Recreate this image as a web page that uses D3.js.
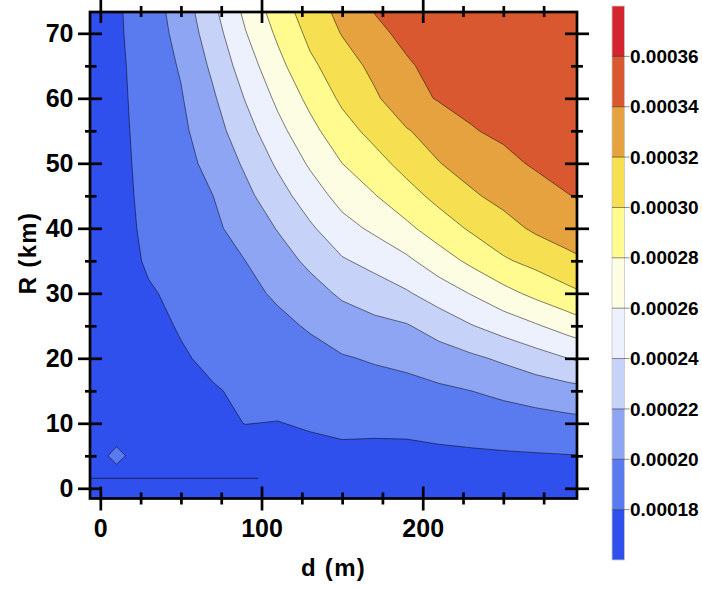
<!DOCTYPE html>
<html lang="en">
<head>
<meta charset="UTF-8">
<title>d - R contour</title>
<script src="https://cdn.jsdelivr.net/npm/d3@7"></script>
<style>
  body { margin: 0; background: #fff; }
  text { font-family: "Liberation Sans", Arial, sans-serif; font-weight: bold; }
</style>
</head>
<body>
<script>
// grid positions: d (m) across, R (km) up
var dGrid = [-10, 10, 30, 50, 70, 90, 110, 130, 150, 170, 190, 210, 230, 250, 270, 290, 310];
var rGrid = [-5, 0, 5, 10, 15, 20, 25, 30, 35, 40, 45, 50, 55, 60, 65, 70, 75];

// values, unit 1e-5, one row per R (from R = -5 upward)
var vRows = [
  [17.0, 17.0, 17.0, 17.0, 17.0, 17.0, 17.0, 17.0, 17.0, 17.0, 17.0, 17.0, 17.0, 17.0, 17.0, 17.0, 17.0],
  [17.0, 17.0, 17.05, 17.05, 17.1, 17.1, 17.1, 17.1, 17.1, 17.1, 17.1, 17.1, 17.1, 17.1, 17.1, 17.1, 17.1],
  [17.0, 18.35, 17.13, 17.22, 17.30, 17.39, 17.48, 17.57, 17.65, 17.64, 17.61, 17.68, 17.74, 17.81, 17.87, 17.94, 17.98],
  [17.0, 17.09, 17.26, 17.43, 17.75, 18.02, 17.96, 18.15, 18.35, 18.31, 18.37, 18.58, 18.79, 19.0, 19.21, 19.42, 19.63],
  [17.0, 17.13, 17.39, 17.65, 17.91, 18.2, 18.5, 18.8, 19.1, 19.23, 19.37, 19.68, 20.0, 20.43, 20.86, 21.29, 21.71],
  [17.0, 17.17, 17.52, 17.87, 18.25, 18.65, 19.05, 19.45, 19.85, 20.18, 20.5, 21.07, 21.64, 22.32, 23.15, 24.0, 24.76],
  [17.0, 17.22, 17.65, 18.1, 18.6, 19.1, 19.6, 20.17, 21.0, 21.49, 21.86, 22.84, 23.9, 24.86, 25.8, 26.84, 27.9],
  [17.0, 17.26, 17.85, 18.35, 18.95, 19.55, 20.25, 21.25, 22.3, 23.03, 23.79, 24.95, 26.1, 27.37, 28.5, 29.5, 30.39],
  [17.0, 17.3, 18.2, 18.6, 19.3, 20.0, 21.17, 22.4, 23.8, 24.6, 25.62, 27.05, 28.42, 29.75, 30.58, 31.48, 32.24],
  [17.0, 17.4, 18.35, 18.85, 19.65, 20.75, 22.1, 23.7, 25.3, 26.37, 27.58, 29.0, 30.26, 31.29, 32.32, 32.98, 33.63],
  [17.0, 17.4, 18.5, 19.1, 20.0, 21.5, 23.2, 25.0, 26.7, 27.9, 29.25, 30.58, 31.74, 32.57, 33.31, 33.95, 34.38],
  [17.0, 17.45, 18.6, 19.35, 20.58, 22.3, 24.3, 26.26, 28.0, 29.3, 30.68, 31.94, 32.78, 33.59, 34.2, 34.6, 35.0],
  [17.0, 17.5, 18.7, 19.6, 21.17, 23.2, 25.4, 27.4, 29.25, 30.6, 31.87, 32.8, 33.9, 34.3, 34.74, 35.09, 35.3],
  [17.0, 17.55, 18.8, 19.85, 21.75, 24.1, 26.4, 28.5, 30.35, 31.7, 33.3, 34.15, 34.4, 34.8, 35.14, 35.35, 35.6],
  [17.0, 17.6, 18.9, 20.17, 22.4, 25.0, 27.4, 29.6, 31.06, 32.5, 33.85, 34.4, 34.78, 35.15, 35.4, 35.65, 35.75],
  [17.0, 17.7, 19.0, 20.58, 23.1, 25.9, 28.33, 30.47, 32.1, 33.7, 34.3, 34.68, 35.13, 35.4, 35.64, 35.75, 35.86],
  [17.0, 17.75, 19.1, 21.0, 23.8, 26.7, 29.25, 31.2, 32.8, 34.2, 34.6, 35.05, 35.45, 35.62, 35.77, 35.88, 35.95]
];

// contour levels (unit 1e-5) and the band colours
var levels = [16, 18, 20, 22, 24, 26, 28, 30, 32, 34, 36];
var bandColors = ["#2f50ec", "#5a7bef", "#8ea5f3", "#c6d2f8", "#edf1fd", "#fdfde3",
                  "#fffb8f", "#f6e052", "#e5a23f", "#da5830", "#d3252f"];
var cbRange = [16, 38];
var cbTicks = [18, 20, 22, 24, 26, 28, 30, 32, 34, 36];
var cbLabels = ["0.00018", "0.00020", "0.00022", "0.00024", "0.00026",
                "0.00028", "0.00030", "0.00032", "0.00034", "0.00036"];

// axes
var dDomain = [-6.4, 295.7];
var rDomain = [-1.57, 73.28];
var xMajor = [0, 100, 200];
var xMinor = [25, 50, 75, 125, 150, 175, 225, 250, 275];
var yMajor = [0, 10, 20, 30, 40, 50, 60, 70];
var yMinor = [5, 15, 25, 35, 45, 55, 65];

// the short straight seam near the bottom
var seamR = 1.54;
var seamD = [-6.4, 98];

var width = 702;
var height = 589;
var plot = {left: 90, right: 577, top: 12, bottom: 498.5};

var svg = d3.select("body").append("svg")
    .attr("width", width)
    .attr("height", height);

var x = d3.scaleLinear().domain(dDomain).range([plot.left, plot.right]);
var y = d3.scaleLinear().domain(rDomain).range([plot.bottom, plot.top]);

svg.append("clipPath").attr("id", "clip")
  .append("rect")
    .attr("x", plot.left).attr("y", plot.top)
    .attr("width", plot.right - plot.left).attr("height", plot.bottom - plot.top);

// filled contours
var nx = dGrid.length, ny = rGrid.length;
var flat = [];
vRows.forEach(function (row) { row.forEach(function (v) { flat.push(v); }); });

var dStep = dGrid[1] - dGrid[0];
var rStep = rGrid[1] - rGrid[0];
var proj = d3.geoTransform({
  point: function (gx, gy) {
    this.stream.point(x(dGrid[0] + (gx - 0.5) * dStep), y(rGrid[0] + (gy - 0.5) * rStep));
  }
});
var path = d3.geoPath(proj);

var contours = d3.contours().size([nx, ny]).thresholds(levels)(flat);

svg.append("g").attr("clip-path", "url(#clip)")
  .selectAll("path")
  .data(contours)
  .enter().append("path")
    .attr("d", path)
    .attr("fill", function (d, i) { return bandColors[i]; })
    .attr("stroke", "#000")
    .attr("stroke-opacity", function (d, i) { return i === 0 ? 0 : 0.5; })
    .attr("stroke-width", 1)
    .attr("stroke-linejoin", "round");

svg.append("line")
    .attr("x1", x(seamD[0])).attr("x2", x(seamD[1]))
    .attr("y1", y(seamR)).attr("y2", y(seamR))
    .attr("stroke", "#1c2a78")
    .attr("stroke-width", 1.2);

// frame and ticks
var tickW = 2.7;
function styleAxis(g, inner, dir) {
  g.select(".domain").remove();
  g.selectAll(".tick line").attr("stroke-width", tickW);
  if (dir === "x") g.selectAll(".tick line").attr("y1", inner);
  else g.selectAll(".tick line").attr("x1", inner);
  g.attr("font-size", 25).attr("font-family", null);
}

svg.append("g").attr("transform", "translate(0," + plot.bottom + ")")
    .call(d3.axisBottom(x).tickValues(xMajor).tickSize(12).tickPadding(9).tickFormat(d3.format("d")))
    .call(styleAxis, -12, "x");
svg.append("g").attr("transform", "translate(0," + plot.bottom + ")")
    .call(d3.axisBottom(x).tickValues(xMinor).tickSize(6).tickFormat(""))
    .call(styleAxis, -6, "x");
svg.append("g").attr("transform", "translate(0," + plot.top + ")")
    .call(d3.axisTop(x).tickValues(xMajor).tickSize(12).tickFormat(""))
    .call(styleAxis, 11, "x");
svg.append("g").attr("transform", "translate(0," + plot.top + ")")
    .call(d3.axisTop(x).tickValues(xMinor).tickSize(6).tickFormat(""))
    .call(styleAxis, 5, "x");

svg.append("g").attr("transform", "translate(" + plot.left + ",0)")
    .call(d3.axisLeft(y).tickValues(yMajor).tickSize(12).tickPadding(4.5).tickFormat(d3.format("d")))
    .call(styleAxis, 12, "y");
svg.append("g").attr("transform", "translate(" + plot.left + ",0)")
    .call(d3.axisLeft(y).tickValues(yMinor).tickSize(5).tickFormat(""))
    .call(styleAxis, 6.5, "y");
svg.append("g").attr("transform", "translate(" + plot.right + ",0)")
    .call(d3.axisRight(y).tickValues(yMajor).tickSize(12).tickFormat(""))
    .call(styleAxis, -12, "y");
svg.append("g").attr("transform", "translate(" + plot.right + ",0)")
    .call(d3.axisRight(y).tickValues(yMinor).tickSize(6).tickFormat(""))
    .call(styleAxis, -6, "y");

svg.append("rect")
    .attr("x", plot.left).attr("y", plot.top)
    .attr("width", plot.right - plot.left).attr("height", plot.bottom - plot.top)
    .attr("fill", "none")
    .attr("stroke", "#000")
    .attr("stroke-width", tickW);

// axis titles
svg.append("text")
    .attr("x", (plot.left + plot.right) / 2)
    .attr("y", 575.5)
    .attr("text-anchor", "middle")
    .attr("font-size", 24)
    .attr("letter-spacing", 1.3)
    .text("d (m)");

svg.append("text")
    .attr("transform", "translate(35.5,253) rotate(-90)")
    .attr("text-anchor", "middle")
    .attr("font-size", 24)
    .attr("letter-spacing", 1.3)
    .text("R (km)");

// colour bar
var cb = {x: 612, w: 12.5};
var cy = d3.scaleLinear().domain(cbRange).range([560, 6]);
var cbg = svg.append("g");

cbg.selectAll("rect.band")
  .data(levels)
  .enter().append("rect")
    .attr("class", "band")
    .attr("x", cb.x)
    .attr("y", function (d) { return cy(d + 2); })
    .attr("width", cb.w)
    .attr("height", function (d) { return cy(d) - cy(d + 2); })
    .attr("fill", function (d, i) { return bandColors[i]; });

cbg.append("rect")
    .attr("x", cb.x).attr("y", cy(cbRange[1]))
    .attr("width", cb.w).attr("height", cy(cbRange[0]) - cy(cbRange[1]))
    .attr("fill", "none")
    .attr("stroke", "#c8c8c8")
    .attr("stroke-width", 0.8);

cbg.selectAll("line.sep")
  .data(cbTicks)
  .enter().append("line")
    .attr("class", "sep")
    .attr("x1", cb.x).attr("x2", cb.x + cb.w + 5)
    .attr("y1", function (d) { return cy(d); })
    .attr("y2", function (d) { return cy(d); })
    .attr("stroke", "#000")
    .attr("stroke-opacity", 0.45)
    .attr("stroke-width", 1);

cbg.selectAll("text")
  .data(cbTicks)
  .enter().append("text")
    .attr("x", cb.x + cb.w + 5.5)
    .attr("y", function (d) { return cy(d); })
    .attr("dy", "0.35em")
    .attr("font-size", 19)
    .text(function (d, i) { return cbLabels[i]; });
</script>
</body>
</html>
